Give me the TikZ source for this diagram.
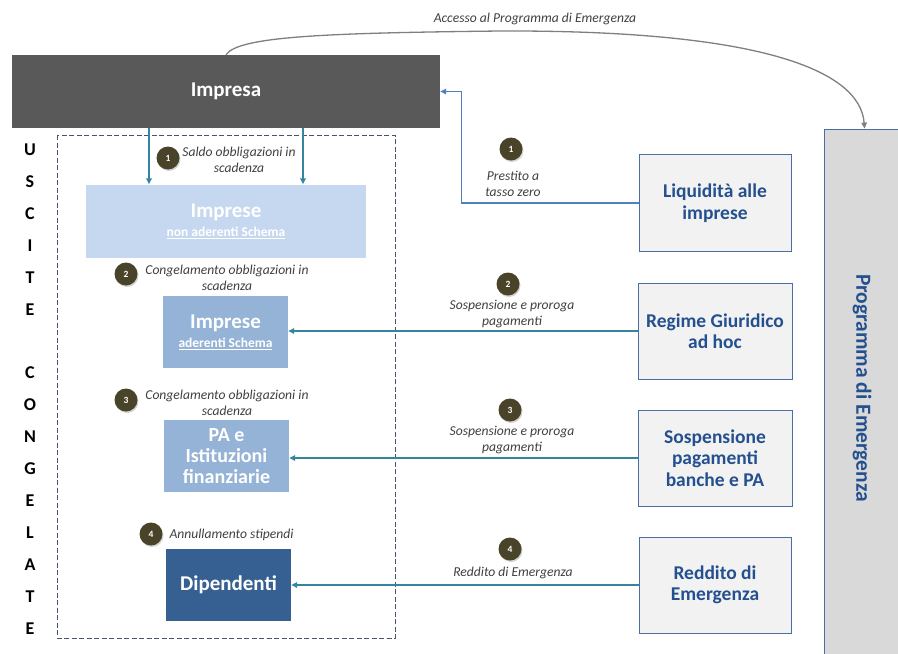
\documentclass[tikz,border=0pt]{standalone}
\usepackage{fontspec}
\setmainfont{Carlito}
\usetikzlibrary{arrows.meta,shadows}

\definecolor{impgray}{HTML}{595959}
\definecolor{paleblue}{HTML}{C6D8EF}
\definecolor{midblue}{HTML}{95B3D7}
\definecolor{deepblue}{HTML}{366092}
\definecolor{flowteal}{HTML}{3485A0}
\definecolor{liqblue}{HTML}{4F81BD}
\definecolor{boxfill}{HTML}{F2F2F2}
\definecolor{boxline}{HTML}{4A6FA5}
\definecolor{boxtext}{HTML}{24508F}
\definecolor{progfill}{HTML}{D9D9D9}
\definecolor{badgecol}{HTML}{494429}
\definecolor{notegray}{HTML}{404040}
\definecolor{dashcol}{HTML}{44546A}
\definecolor{arcgray}{HTML}{7F7F7F}

\tikzset{
  whitebox/.style={text=white,font=\bfseries\fontsize{21}{21}\selectfont,align=center,inner sep=0pt},
  measbox/.style={fill=boxfill,draw=boxline,line width=.8pt,text=boxtext,
    font=\bfseries\fontsize{19.5}{21.5}\selectfont,align=center,inner sep=0pt},
  badge/.style={circle,fill=badgecol,text=white,font=\bfseries\fontsize{9.5}{9.5}\selectfont,
    minimum size=23pt,inner sep=0pt,drop shadow={shadow xshift=1pt,shadow yshift=-1.5pt,opacity=.35}},
  note/.style={font=\itshape\fontsize{13.6}{16}\selectfont,text=notegray,align=center,inner sep=0pt},
  flow/.style={draw=flowteal,line width=1.6pt,->},
  letter/.style={font=\bfseries\fontsize{18}{18}\selectfont,inner sep=0pt},
}

\begin{document}
\begin{tikzpicture}[x=1pt,y=-1pt,>={Triangle[length=6pt,width=5.5pt]}]
  \useasboundingbox (0,0) rectangle (898,654);
  \clip (0,0) rectangle (898,654);
  % top: the firm and the emergency programme
  \node[whitebox,fill=impgray,minimum width=428pt,minimum height=73pt] (imp) at (226,91.5) {Impresa};
  \node[fill=progfill,draw=boxline,line width=.8pt,minimum width=86pt,minimum height=541pt] (prog) at (867,399.5) {};
  \node[rotate=-90,text=boxtext,font=\bfseries\fontsize{21.5}{21.5}\selectfont,inner sep=0pt] (progtxt) at (862,388) {Programma di Emergenza};
  \draw[arcgray,line width=1.3pt,->] (imp.north) .. controls (238,36) and (330,33) .. (500,31)
    .. controls (760,30) and (860,70) .. ([xshift=41pt]prog.north west);
  \node[note] (acc) at (535,19) {Accesso al Programma di Emergenza};
  % left column: frozen outflows
  \draw[dashcol,dash pattern=on 5pt off 2.5pt,line width=1pt] (57,135) rectangle (395,638);
  \foreach \l [count=\i from 0] in {U,S,C,I,T,E}
    \node[letter] (us\i) at (30,150+32*\i) {\l};
  \foreach \l [count=\i from 0] in {C,O,N,G,E,L,A,T,E}
    \node[letter] (co\i) at (30,373+32*\i) {\l};
  \node[whitebox,fill=paleblue,minimum width=280pt,minimum height=73pt] (nad) at (226,221)
    {Imprese\\[-2pt]{\fontsize{13.5}{14}\selectfont\underline{non aderenti Schema}}};
  \node[whitebox,fill=midblue,minimum width=125pt,minimum height=72pt] (ade) at (225.5,332)
    {Imprese\\[-2pt]{\fontsize{13.5}{14}\selectfont\underline{aderenti Schema}}};
  \node[whitebox,fill=midblue,minimum width=125pt,minimum height=72pt,
    font=\bfseries\fontsize{20}{21}\selectfont] (pa) at (226.5,456) {PA e\\Istituzioni\\finanziarie};
  \node[whitebox,fill=deepblue,minimum width=125pt,minimum height=72pt] (dip) at (228.5,584.5) {Dipendenti};
  \draw[flow] ([xshift=-77pt]imp.south) -- ([xshift=-77pt]imp.south |- nad.north);
  \draw[flow] ([xshift=77pt]imp.south) -- ([xshift=77pt]imp.south |- nad.north);
  \node[badge] (bl1) at (168,158) {1};
  \node[note] (nl1) at (239,160) {Saldo obbligazioni in\\scadenza};
  \node[badge] (bl2) at (126,274) {2};
  \node[note] (nl2) at (227,277.5) {Congelamento obbligazioni in\\scadenza};
  \node[badge] (bl3) at (126,400) {3};
  \node[note] (nl3) at (227,402.5) {Congelamento obbligazioni in\\scadenza};
  \node[badge] (bl4) at (151,534) {4};
  \node[note] (nl4) at (231.5,535) {Annullamento stipendi};
  % right column: measures
  \node[measbox,minimum width=152pt,minimum height=97pt] (liq) at (715,203) {Liquidità alle\\imprese};
  \node[measbox,minimum width=154pt,minimum height=96pt] (reg) at (715,331) {Regime Giuridico\\ad hoc};
  \node[measbox,minimum width=154pt,minimum height=96pt] (sosp) at (715,458) {Sospensione\\pagamenti\\banche e PA};
  \node[measbox,minimum width=152pt,minimum height=96pt] (red) at (715,585) {Reddito di\\Emergenza};
  \draw[liqblue,line width=1.6pt,->] (liq.west) -- ++(-177,0) |- (imp.east);
  \draw[flow] (reg.west) -- (reg.west -| ade.east);
  \draw[flow] (sosp.west) -- (sosp.west -| pa.east);
  \draw[flow] (red.west) -- (red.west -| dip.east);
  \node[badge] (br1) at (511,149) {1};
  \node[note] (nr1) at (513,183.5) {Prestito a\\tasso zero};
  \node[badge] (br2) at (508,284) {2};
  \node[note] (nr2) at (512,313.5) {Sospensione e proroga\\pagamenti};
  \node[badge] (br3) at (510,410) {3};
  \node[note] (nr3) at (512,440) {Sospensione e proroga\\pagamenti};
  \node[badge] (br4) at (510,549) {4};
  \node[note] (nr4) at (513,573) {Reddito di Emergenza};
\end{tikzpicture}
\end{document}
